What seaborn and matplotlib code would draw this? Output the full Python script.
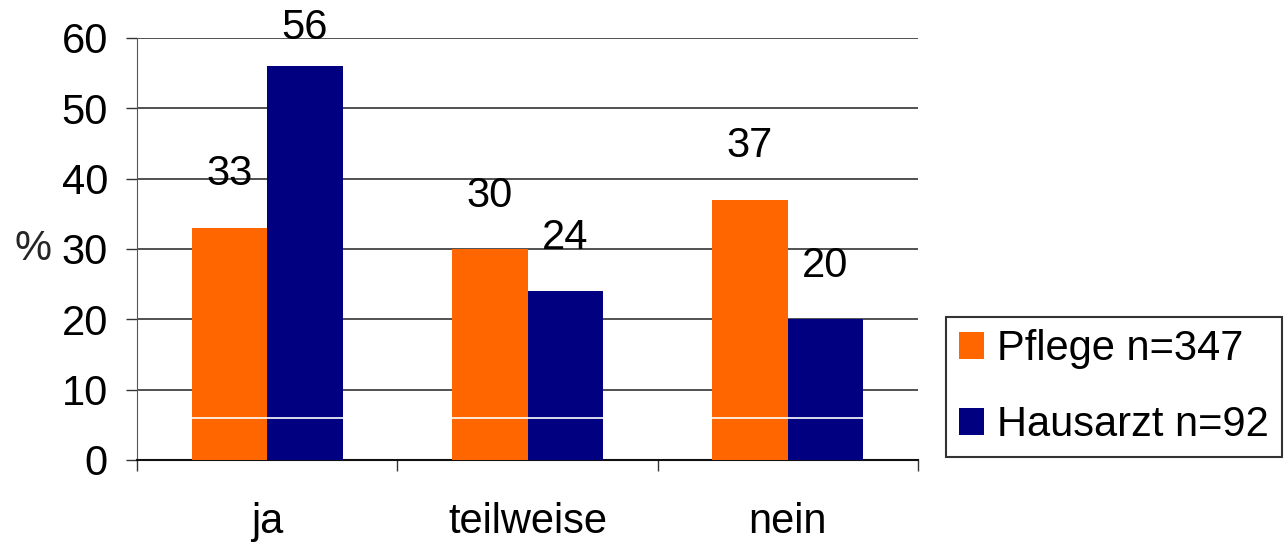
import pandas as pd
import matplotlib
matplotlib.use("Agg")
import matplotlib.pyplot as plt
import seaborn as sns

# Daten aus dem Diagramm
kategorien = ["ja", "teilweise", "nein"]
pflege = [33, 30, 37]
hausarzt = [56, 24, 20]
gruppen = ["Pflege n=347", "Hausarzt n=92"]
farben = ["#FF6600", "#000080"]
y_ticks = [0, 10, 20, 30, 40, 50, 60]

df = pd.DataFrame({
    "Antwort": kategorien * 2,
    "Gruppe": [gruppen[0]] * 3 + [gruppen[1]] * 3,
    "Prozent": pflege + hausarzt,
})

sns.set_style("white")
plt.rcParams["font.family"] = ["Liberation Sans", "DejaVu Sans"]
plt.rcParams["text.color"] = "black"
plt.rcParams["xtick.color"] = "black"
plt.rcParams["ytick.color"] = "black"

fs = 30

fig = plt.figure(figsize=(12.88, 5.42), dpi=100)
ax = fig.add_axes([0.1064, 0.1513, 0.6063, 0.7786])

sns.barplot(data=df, x="Antwort", y="Prozent", hue="Gruppe", order=kategorien,
            hue_order=gruppen, palette=farben, width=0.58, saturation=1,
            gap=0, ax=ax, zorder=3, linewidth=0)

# horizontale Gitterlinien
for t in y_ticks[1:]:
    ax.axhline(t, color="#222222", lw=1.1, zorder=1)
ax.axhline(6, xmin=0.01, color="white", lw=1.2, zorder=4)

# Werte ueber den Balken
for cont in ax.containers:
    for bar in cont:
        h = bar.get_height()
        ypos = min(h + 7.6, 61.4)
        ax.text(bar.get_x() + bar.get_width() / 2, ypos, f"{h:.0f}",
                ha="center", va="center", fontsize=fs, zorder=5, clip_on=False)

ax.set_ylim(0, 60)
ax.set_xlim(-0.5, 2.5)
ax.set_yticks(y_ticks)
ax.tick_params(axis="y", direction="out", length=8, width=1, color="#333333",
               labelsize=fs, pad=13, left=True)
ax.set_xticks([0, 1, 2])
ax.set_xticklabels(kategorien)
ax.tick_params(axis="x", which="major", length=0, labelsize=fs, pad=30)
ax.set_xticks([-0.5, 0.5, 1.5, 2.5], minor=True)
ax.tick_params(axis="x", which="minor", direction="out", length=8, width=1,
               color="#333333", bottom=True)

ax.set_xlabel("")
ax.set_ylabel("%", fontsize=fs, rotation=0, va="center", ha="center")
ax.yaxis.set_label_coords(-0.133, 0.5)

for s in ["top", "right"]:
    ax.spines[s].set_visible(False)
ax.spines["left"].set_color("#555555")
ax.spines["bottom"].set_color("#111111")
ax.spines["bottom"].set_linewidth(1.5)

handles, labels = ax.get_legend_handles_labels()
ax.get_legend().remove()
leg = fig.legend(handles, labels, loc="center left", bbox_to_anchor=(0.7345, 0.286),
                 fontsize=fs, frameon=True, fancybox=False, edgecolor="black",
                 handlelength=0.62, handleheight=0.62, handletextpad=0.31,
                 labelspacing=0.86, borderpad=0.3, borderaxespad=0)
leg.get_frame().set_linewidth(1.5)

fig.savefig("out.png", dpi=100)
